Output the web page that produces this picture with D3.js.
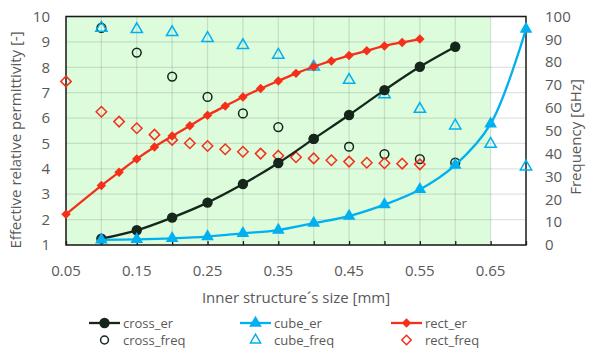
<!DOCTYPE html>
<html>
<head>
<meta charset="utf-8">
<script src="https://cdn.jsdelivr.net/npm/d3@7"></script>
<style>
  body { margin: 0; background: #fff; }
  text { font-family: "Open Sans", "DejaVu Sans", sans-serif; fill: #595959; }
</style>
</head>
<body>
<svg id="chart" width="596" height="350"></svg>
<script>
// data
const crossX = [0.1, 0.15, 0.2, 0.25, 0.3, 0.35, 0.4, 0.45, 0.5, 0.55, 0.6];
const crossEr = [1.25, 1.58, 2.08, 2.67, 3.40, 4.23, 5.18, 6.12, 7.10, 8.02, 8.81];
const crossFreq = [95.0, 84.2, 73.7, 64.8, 57.6, 51.6, 46.4, 43.0, 39.8, 37.6, 36.0];

const cubeX = [0.1, 0.15, 0.2, 0.25, 0.3, 0.35, 0.4, 0.45, 0.5, 0.55, 0.6, 0.65, 0.7];
const cubeEr = [1.2, 1.22, 1.26, 1.33, 1.46, 1.59, 1.86, 2.14, 2.59, 3.19, 4.15, 5.77, 9.5];
const cubeFreq = [95.0, 94.4, 93.1, 90.5, 87.4, 83.2, 78.0, 72.2, 65.9, 59.5, 52.2, 44.2, 34.3];

const rectX = [0.05, 0.1, 0.125, 0.15, 0.175, 0.2, 0.225, 0.25, 0.275, 0.3, 0.325,
    0.35, 0.375, 0.4, 0.425, 0.45, 0.475, 0.5, 0.525, 0.55];
const rectEr = [2.21, 3.34, 3.87, 4.39, 4.86, 5.29, 5.70, 6.11, 6.47, 6.83, 7.16,
    7.46, 7.76, 8.02, 8.25, 8.46, 8.65, 8.84, 8.98, 9.11];
const rectFreq = [71.6, 58.3, 54.0, 51.1, 48.3, 46.0, 44.5, 43.3, 41.9, 40.8, 40.0,
    39.1, 38.4, 37.9, 37.1, 36.5, 36.0, 35.8, 35.6, 35.3];

const xTickLabels = [0.05, 0.15, 0.25, 0.35, 0.45, 0.55, 0.65];
const xGrid = d3.range(0, 14).map((i) => +(0.05 + i * 0.05).toFixed(2));
const yLeftTicks = [1, 2, 3, 4, 5, 6, 7, 8, 9, 10];
const yRightTicks = [0, 10, 20, 30, 40, 50, 60, 70, 80, 90, 100];
const greenBand = [0.05, 0.65];

const colors = { cross: "#15261a", cube: "#00b0f0", rect: "#f5301a" };

const plot = { left: 66, right: 526, top: 16.5, bottom: 245 };

const svg = d3.select("#chart");

const x = d3.scaleLinear().domain([0.05, 0.7]).range([plot.left, plot.right]);
const yL = d3.scaleLinear().domain([1, 10]).range([plot.bottom, plot.top]);
const yR = d3.scaleLinear().domain([0, 100]).range([plot.bottom, plot.top]);

// shaded band
svg.append("rect")
    .attr("x", x(greenBand[0]))
    .attr("y", plot.top)
    .attr("width", x(greenBand[1]) - x(greenBand[0]))
    .attr("height", plot.bottom - plot.top)
    .attr("fill", "#dcfcdc");

// gridlines
const grid = svg.append("g").attr("stroke", "rgba(0,0,0,0.11)").attr("stroke-width", 1.3);
yLeftTicks.forEach((t) => {
    grid.append("line")
        .attr("x1", plot.left).attr("x2", plot.right)
        .attr("y1", yL(t)).attr("y2", yL(t));
});
xGrid.filter((t) => t <= greenBand[1]).forEach((t) => {
    grid.append("line")
        .attr("x1", x(t)).attr("x2", x(t))
        .attr("y1", plot.top).attr("y2", plot.bottom);
});

// frame
svg.append("rect")
    .attr("x", plot.left).attr("y", plot.top)
    .attr("width", plot.right - plot.left).attr("height", plot.bottom - plot.top)
    .attr("fill", "none").attr("stroke", "#1a1a1a").attr("stroke-width", 1.5);

// x axis
const xAxis = svg.append("g")
    .attr("transform", `translate(0,${plot.bottom})`)
    .call(d3.axisBottom(x).tickValues(xGrid).tickSize(-4).tickFormat(""));
xAxis.select(".domain").remove();
xAxis.selectAll("line").attr("stroke", "#1a1a1a").attr("stroke-width", 1.3);

svg.append("g").selectAll("text")
    .data(xTickLabels)
    .join("text")
    .attr("x", (d) => x(d))
    .attr("y", 276)
    .attr("text-anchor", "middle")
    .attr("font-size", 15)
    .text((d) => d.toFixed(2));

svg.append("g").selectAll("text")
    .data(yLeftTicks)
    .join("text")
    .attr("x", 50)
    .attr("y", (d) => yL(d))
    .attr("dy", "0.35em")
    .attr("text-anchor", "end")
    .attr("font-size", 15)
    .text((d) => d);

svg.append("g").selectAll("text")
    .data(yRightTicks)
    .join("text")
    .attr("x", 545)
    .attr("y", (d) => yR(d))
    .attr("dy", "0.35em")
    .attr("font-size", 15)
    .text((d) => d);

// axis titles
svg.append("text")
    .attr("x", 296).attr("y", 303)
    .attr("text-anchor", "middle")
    .attr("font-size", 15)
    .text("Inner structure´s size [mm]");

svg.append("text")
    .attr("transform", "translate(21,140) rotate(-90)")
    .attr("text-anchor", "middle")
    .attr("font-size", 15)
    .text("Effective relative permittivity [-]");

svg.append("text")
    .attr("transform", "translate(581,137) rotate(-90)")
    .attr("text-anchor", "middle")
    .attr("font-size", 15)
    .text("Frequency [GHz]");

// series
const line = (xs, ys, yScale) =>
    d3.line().curve(d3.curveCatmullRom.alpha(0.5))(xs.map((v, i) => [x(v), yScale(ys[i])]));

// Excel-style diamond: a square turned 45 degrees
const squareDiamond = {
    draw(context, size) {
        const r = Math.sqrt(size / 2);
        context.moveTo(0, -r);
        context.lineTo(r, 0);
        context.lineTo(0, r);
        context.lineTo(-r, 0);
        context.closePath();
    },
};

const symbolPath = (type, size) => d3.symbol().type(type).size(size)();

const series = [
    { xs: crossX, er: crossEr, freq: crossFreq, color: colors.cross, type: d3.symbolCircle, size: 85, openSize: 60 },
    { xs: cubeX, er: cubeEr, freq: cubeFreq, color: colors.cube, type: d3.symbolTriangle, size: 70, openSize: 55 },
    { xs: rectX, er: rectEr, freq: rectFreq, color: colors.rect, type: squareDiamond, size: 45, openSize: 55 },
];

// open (frequency) markers first
series.forEach((s) => {
    svg.append("g").selectAll("path")
        .data(s.freq)
        .join("path")
        .attr("d", symbolPath(s.type, s.openSize))
        .attr("transform", (d, i) => `translate(${x(s.xs[i])},${yR(d)})`)
        .attr("fill", "none")
        .attr("stroke", s.color)
        .attr("stroke-width", 1.5);
});

series.forEach((s) => {
    svg.append("path")
        .attr("d", line(s.xs, s.er, yL))
        .attr("fill", "none")
        .attr("stroke", s.color)
        .attr("stroke-width", 2.3);
    svg.append("g").selectAll("path")
        .data(s.er)
        .join("path")
        .attr("d", symbolPath(s.type, s.size))
        .attr("transform", (d, i) => `translate(${x(s.xs[i])},${yL(d)})`)
        .attr("fill", s.color);
});

// legend
const legendNames = [["cross_er", "cross_freq"], ["cube_er", "cube_freq"], ["rect_er", "rect_freq"]];
const legendX = [89, 240, 391];
series.forEach((s, i) => {
    const g = svg.append("g").attr("transform", `translate(${legendX[i]},0)`);
    g.append("line")
        .attr("x1", 0).attr("x2", 31)
        .attr("y1", 323).attr("y2", 323)
        .attr("stroke", s.color).attr("stroke-width", 2.3);
    g.append("path")
        .attr("d", symbolPath(s.type, s.size))
        .attr("transform", "translate(15.5,323)")
        .attr("fill", s.color);
    g.append("path")
        .attr("d", symbolPath(s.type, s.openSize * 0.8))
        .attr("transform", "translate(15.5,340)")
        .attr("fill", "none")
        .attr("stroke", s.color)
        .attr("stroke-width", 1.5);
    g.append("text")
        .attr("x", 34).attr("y", 323).attr("dy", "0.35em")
        .attr("font-size", 13)
        .text(legendNames[i][0]);
    g.append("text")
        .attr("x", 34).attr("y", 340).attr("dy", "0.35em")
        .attr("font-size", 13)
        .text(legendNames[i][1]);
});
</script>
</body>
</html>
